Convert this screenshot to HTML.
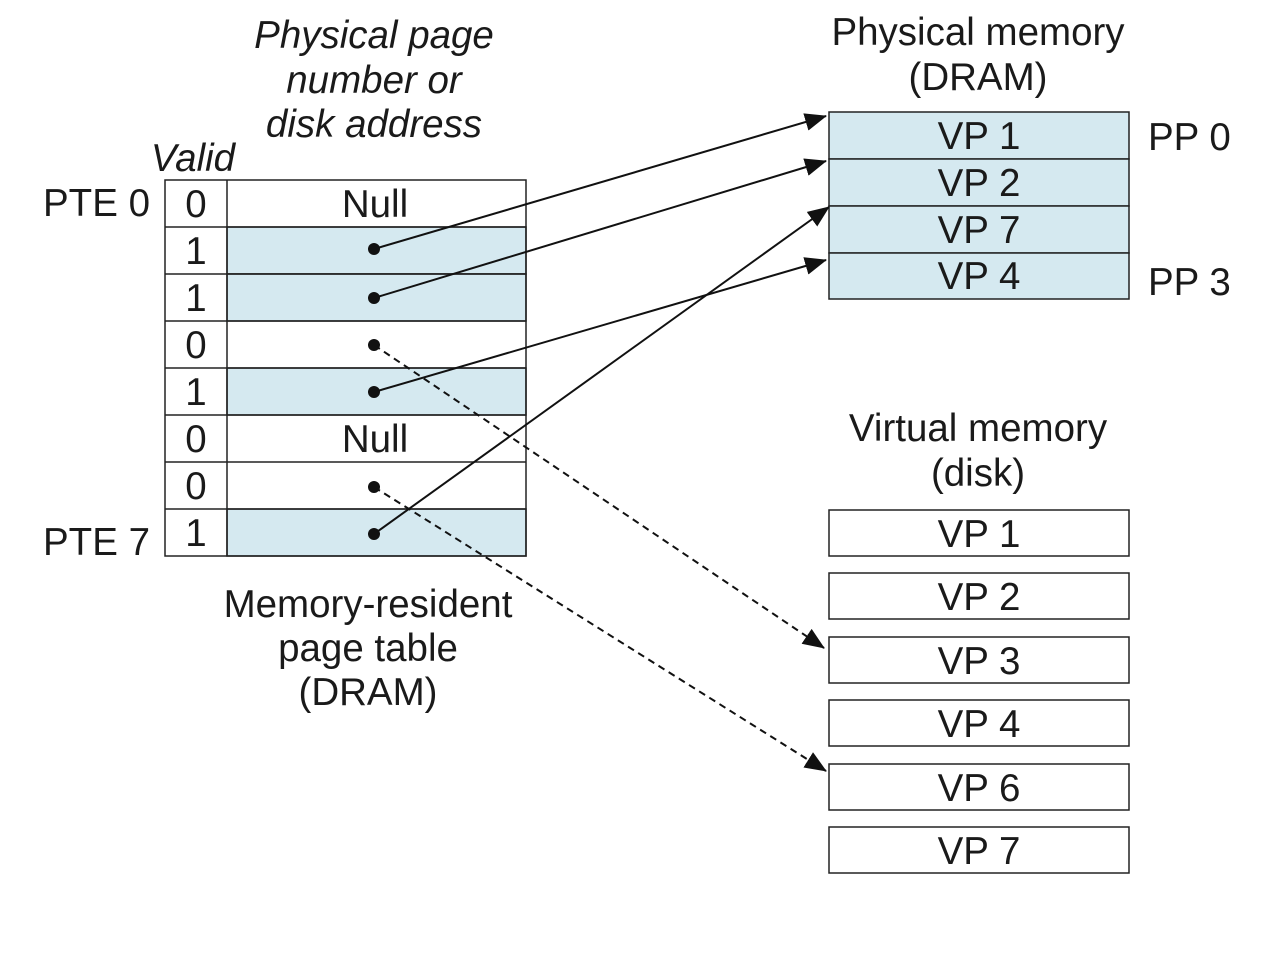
<!DOCTYPE html>
<html><head><meta charset="utf-8"><style>
html,body{margin:0;padding:0;background:#fff;}
svg text{font-family:"Liberation Sans",Arial,sans-serif;font-size:38.5px;fill:#1a1a1a;}
.it{font-style:italic;}
</style></head><body>
<svg width="1269" height="974" viewBox="0 0 1269 974" xmlns="http://www.w3.org/2000/svg">
<defs>
<marker id="ah" markerUnits="userSpaceOnUse" markerWidth="22" markerHeight="18" refX="21" refY="9" orient="auto">
<path d="M0,0 L22,9 L0,18 Z" fill="#111"/>
</marker>
</defs>
<g text-anchor="middle">
<text x="374" y="48" class="it">Physical page</text>
<text x="374" y="93" class="it">number or</text>
<text x="374" y="137" class="it">disk address</text>
<text x="193" y="171" class="it">Valid</text>
<text x="978" y="45">Physical memory</text>
<text x="978" y="90">(DRAM)</text>
<text x="978" y="441">Virtual memory</text>
<text x="978" y="486">(disk)</text>
<text x="368" y="617">Memory-resident</text>
<text x="368" y="661">page table</text>
<text x="368" y="705">(DRAM)</text>
</g>
<text x="43" y="216">PTE 0</text>
<text x="43" y="555">PTE 7</text>
<text x="1148" y="150">PP 0</text>
<text x="1148" y="295">PP 3</text>
<g stroke="#222" stroke-width="1.5">
<rect x="227" y="227" width="299" height="47" fill="#d5e9f0"/>
<rect x="227" y="274" width="299" height="47" fill="#d5e9f0"/>
<rect x="227" y="368" width="299" height="47" fill="#d5e9f0"/>
<rect x="227" y="509" width="299" height="47" fill="#d5e9f0"/>
<rect x="165" y="180" width="361" height="376" fill="none"/>
<line x1="227" y1="180" x2="227" y2="556"/>
<line x1="165" y1="227" x2="526" y2="227"/>
<line x1="165" y1="274" x2="526" y2="274"/>
<line x1="165" y1="321" x2="526" y2="321"/>
<line x1="165" y1="368" x2="526" y2="368"/>
<line x1="165" y1="415" x2="526" y2="415"/>
<line x1="165" y1="462" x2="526" y2="462"/>
<line x1="165" y1="509" x2="526" y2="509"/>
</g>
<g text-anchor="middle">
<text x="196" y="217">0</text>
<text x="196" y="264">1</text>
<text x="196" y="311">1</text>
<text x="196" y="358">0</text>
<text x="196" y="405">1</text>
<text x="196" y="452">0</text>
<text x="196" y="499">0</text>
<text x="196" y="546">1</text>
<text x="375" y="217">Null</text>
<text x="375" y="452">Null</text>
</g>
<g stroke="#222" stroke-width="1.5" fill="#d5e9f0">
<rect x="829" y="112" width="300" height="47"/>
<rect x="829" y="159" width="300" height="47"/>
<rect x="829" y="206" width="300" height="47"/>
<rect x="829" y="253" width="300" height="46"/>
</g>
<g text-anchor="middle">
<text x="979" y="149">VP 1</text>
<text x="979" y="196">VP 2</text>
<text x="979" y="243">VP 7</text>
<text x="979" y="289">VP 4</text>
</g>
<g stroke="#222" stroke-width="1.5" fill="none">
<rect x="829" y="510" width="300" height="46"/>
<rect x="829" y="573" width="300" height="46"/>
<rect x="829" y="637" width="300" height="46"/>
<rect x="829" y="700" width="300" height="46"/>
<rect x="829" y="764" width="300" height="46"/>
<rect x="829" y="827" width="300" height="46"/>
</g>
<g text-anchor="middle">
<text x="979" y="547">VP 1</text>
<text x="979" y="610">VP 2</text>
<text x="979" y="674">VP 3</text>
<text x="979" y="737">VP 4</text>
<text x="979" y="801">VP 6</text>
<text x="979" y="864">VP 7</text>
</g>
<g stroke="#111" stroke-width="2" fill="none">
<line x1="374" y1="249" x2="826" y2="116" marker-end="url(#ah)"/>
<line x1="374" y1="298" x2="826" y2="161" marker-end="url(#ah)"/>
<line x1="374" y1="392" x2="826" y2="260" marker-end="url(#ah)"/>
<line x1="374" y1="534" x2="829" y2="207" marker-end="url(#ah)"/>
<line x1="374" y1="345" x2="824" y2="648" stroke-dasharray="7,5" marker-end="url(#ah)"/>
<line x1="374" y1="487" x2="826" y2="771" stroke-dasharray="7,5" marker-end="url(#ah)"/>
</g>
<g fill="#111">
<circle cx="374" cy="249" r="6"/>
<circle cx="374" cy="298" r="6"/>
<circle cx="374" cy="345" r="6"/>
<circle cx="374" cy="392" r="6"/>
<circle cx="374" cy="487" r="6"/>
<circle cx="374" cy="534" r="6"/>
</g>
</svg>
</body></html>
